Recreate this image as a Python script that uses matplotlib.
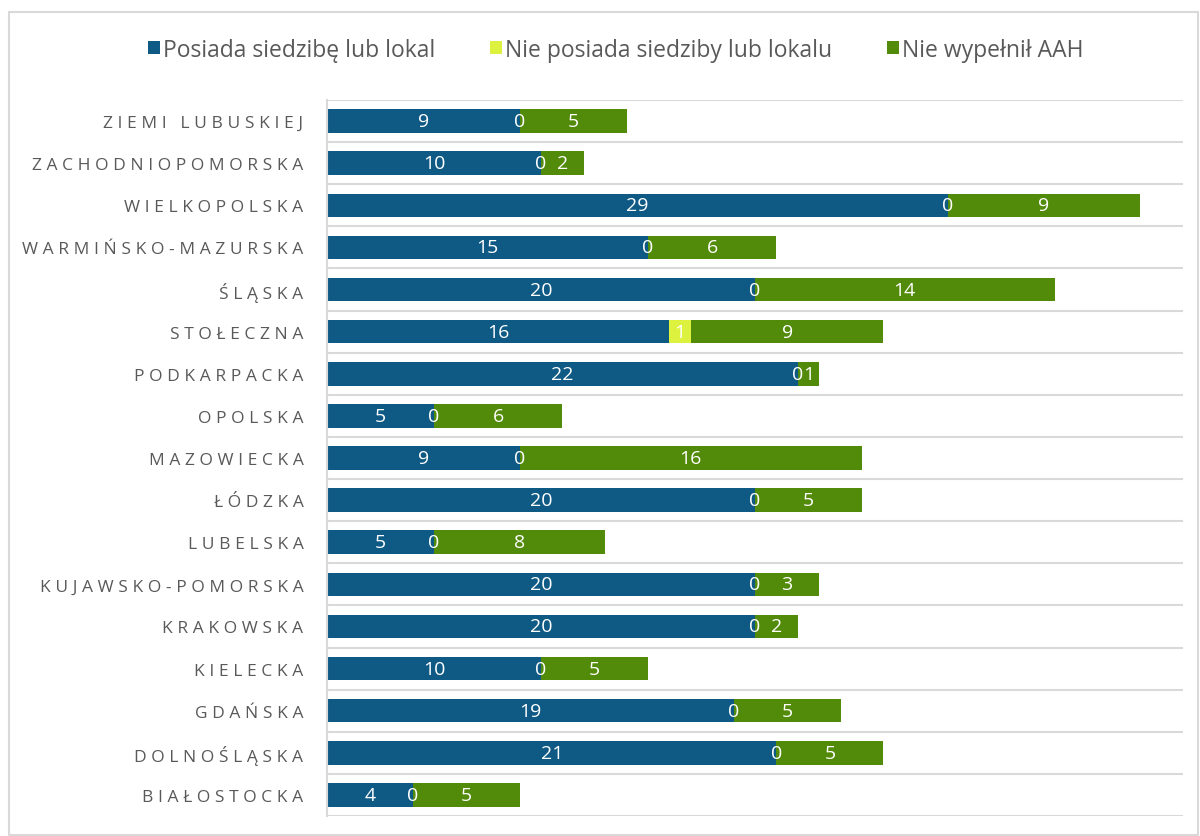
import numpy as np
import matplotlib
matplotlib.use("Agg")
import matplotlib.pyplot as plt
from matplotlib.patches import Rectangle

REGIONS = ["BIAŁOSTOCKA", "DOLNOŚLĄSKA", "GDAŃSKA", "KIELECKA", "KRAKOWSKA",
           "KUJAWSKO-POMORSKA", "LUBELSKA", "ŁÓDZKA", "MAZOWIECKA", "OPOLSKA",
           "PODKARPACKA", "STOŁECZNA", "ŚLĄSKA", "WARMIŃSKO-MAZURSKA",
           "WIELKOPOLSKA", "ZACHODNIOPOMORSKA", "ZIEMI LUBUSKIEJ"]
HAS_SEAT = [4, 21, 19, 10, 20, 20, 5, 20, 9, 5, 22, 16, 20, 15, 29, 10, 9]
NO_SEAT  = [0, 0, 0, 0, 0, 0, 0, 0, 0, 0, 0, 1, 0, 0, 0, 0, 0]
NO_AAH   = [5, 5, 5, 5, 2, 3, 8, 5, 16, 6, 1, 9, 14, 6, 9, 2, 5]
SERIES   = ["Posiada siedzibę lub lokal", "Nie posiada siedziby lub lokalu", "Nie wypełnił AAH"]

COLORS = ["#0F5A85", "#DCF23E", "#528A09"]
FONT = ["Open Sans", "DejaVu Sans"]

fig = plt.figure(figsize=(12, 8.37), dpi=100)
fig.patches.append(Rectangle((9 / 1200, 1 / 837), 1189 / 1200, 823 / 837,
                             transform=fig.transFigure, fill=False,
                             edgecolor="#d9d9d9", linewidth=1.5))
ax = fig.add_axes([327 / 1200, 20 / 837, 856 / 1200, 716 / 837])

y = np.arange(len(REGIONS))
left = np.zeros(len(REGIONS))
for vals, col, name in zip([HAS_SEAT, NO_SEAT, NO_AAH], COLORS, SERIES):
    vals = np.array(vals, dtype=float)
    ax.barh(y, vals, left=left, height=0.56, color=col, label=name, linewidth=0.0)
    for yi, l, v in zip(y, left, vals):
        ax.text(l + v / 2, yi, f"{int(v)}", ha="center", va="center",
                color="white", fontsize=14, family=FONT)
    left += vals

ax.set_xlim(0, 40)
ax.set_ylim(-0.5, len(REGIONS) - 0.5)
ax.set_xticks([])
ax.set_yticks(y)
# spaced-out uppercase labels
ax.set_yticklabels(["\u2009\u200a".join(r) for r in REGIONS], family=FONT,
                   fontsize=12.5, color="#595959")
ax.tick_params(axis="y", length=0, pad=17)
for b in np.arange(-0.5, len(REGIONS), 1.0):
    ax.axhline(b, color="#d9d9d9", linewidth=1.5, zorder=0)
for s in ["top", "right", "bottom"]:
    ax.spines[s].set_visible(False)
ax.spines["left"].set_color("#d9d9d9")
ax.spines["left"].set_linewidth(1.5)

fig.legend(loc="center", bbox_to_anchor=(616 / 1200, 1 - 51 / 837), ncol=3, frameon=False,
           prop={"family": FONT, "size": 16.5}, handlelength=0.5, handleheight=0.5,
           handletextpad=0.15, columnspacing=2.4, labelcolor="#595959")

fig.savefig("out.png", dpi=100)
